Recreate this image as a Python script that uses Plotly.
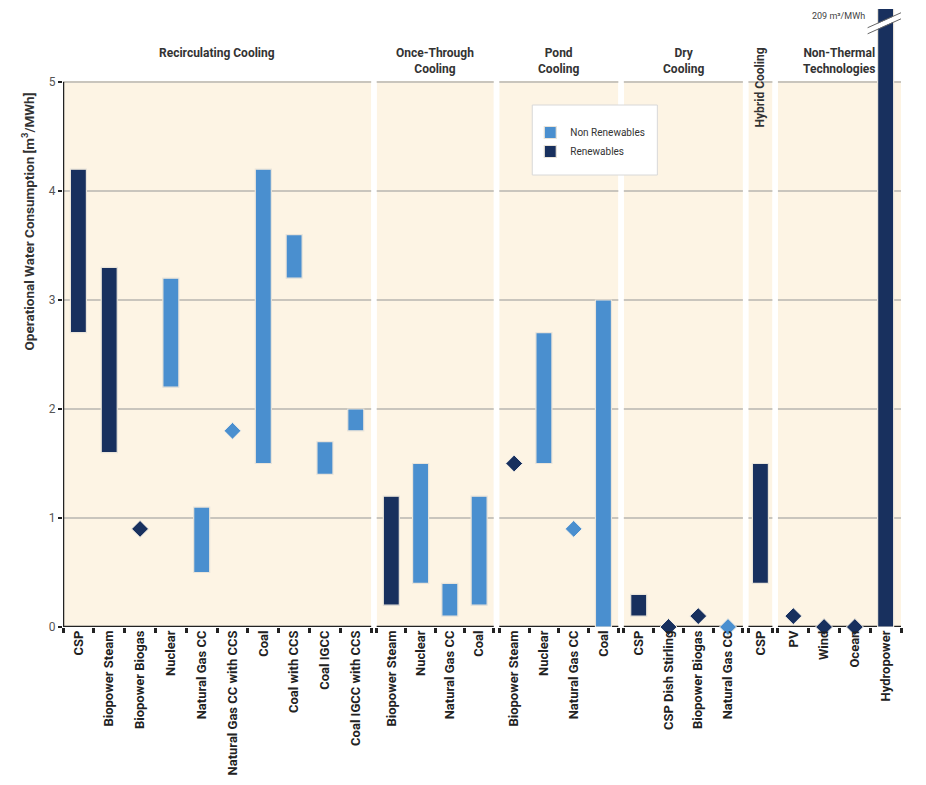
import plotly.graph_objects as go

# ---------------- data ----------------
group_titles = ["Recirculating Cooling", "Once-Through<br>Cooling", "Pond<br>Cooling",
                "Dry<br>Cooling", "Hybrid Cooling", "Non-Thermal<br>Technologies"]

tech_labels = [
    "CSP", "Biopower Steam", "Biopower Biogas", "Nuclear", "Natural Gas CC",
    "Natural Gas CC with CCS", "Coal", "Coal with CCS", "Coal IGCC", "Coal IGCC with CCS",
    "Biopower Steam", "Nuclear", "Natural Gas CC", "Coal",
    "Biopower Steam", "Nuclear", "Natural Gas CC", "Coal",
    "CSP", "CSP Dish Stirling", "Biopower Biogas", "Natural Gas CC",
    "CSP",
    "PV", "Wind", "Ocean", "Hydropower",
]
tech_group = [0]*10 + [1]*4 + [2]*4 + [3]*4 + [4]*1 + [5]*4
renewable = [
    True, True, True, False, False, False, False, False, False, False,
    True, False, False, False,
    True, False, False, False,
    True, True, True, False,
    True,
    True, True, True, True,
]
range_low = [
    2.7, 1.6, None, 2.2, 0.5, None, 1.5, 3.2, 1.4, 1.8,
    0.2, 0.4, 0.1, 0.2,
    None, 1.5, None, 0.0,
    0.1, None, None, None,
    0.4,
    None, None, None, 0.0,
]
range_high = [
    4.2, 3.3, None, 3.2, 1.1, None, 4.2, 3.6, 1.7, 2.0,
    1.2, 1.5, 0.4, 1.2,
    None, 2.7, None, 3.0,
    0.3, None, None, None,
    1.5,
    None, None, None, 209.0,
]
point_value = [
    None, None, 0.9, None, None, 1.8, None, None, None, None,
    None, None, None, None,
    1.5, None, 0.9, None,
    None, 0.0, 0.1, 0.0,
    None,
    0.1, 0.0, 0.0, None,
]
hydro_label = "209 m³/MWh"
y_ticks = [0, 1, 2, 3, 4, 5]

# ---------------- layout helpers (pixel-like x units) ----------------
slot_w = [30.8, 29.25, 29.75, 29.75, 24.0, 30.75]
gap = 5.5
group_n = [tech_group.count(g) for g in range(6)]
group_start, group_end = [], []
pos = 0.0
for g in range(6):
    group_start.append(pos)
    pos += slot_w[g] * group_n[g]
    group_end.append(pos)
    pos += gap
x_max = group_end[-1]

xc = []
boundaries = []
idx_in_group = {}
for i, g in enumerate(tech_group):
    k = idx_in_group.get(g, 0)
    idx_in_group[g] = k + 1
    xc.append(group_start[g] + slot_w[g] * (k + 0.5))
for g in range(6):
    for k in range(group_n[g] + 1):
        boundaries.append(group_start[g] + slot_w[g] * k)

LIGHT = "#4a8fcf"
DARK = "#18305e"
TAN = "#fdf4e4"
BARW = 16

# plot area in window pixels: left 63, top 9, right 901, bottom 627 (page has 8px body margin)
PL, PT, PB = 63, 9, 627
PH = PB - PT


def px_x(p):
    return (p - PL) / x_max


def px_y(p):
    return (PB - p) / PH


fig = go.Figure()

for ren, name, col in [(False, "Non Renewables", LIGHT), (True, "Renewables", DARK)]:
    sel = [i for i in range(len(xc)) if renewable[i] == ren and range_low[i] is not None]
    lo = [range_low[i] for i in sel]
    hi = [range_high[i] for i in sel]
    fig.add_trace(go.Bar(
        x=[xc[i] for i in sel], y=[h - l for h, l in zip(hi, lo)], base=lo, width=BARW,
        marker=dict(color=col, line=dict(color="#e9e4da", width=1.2)),
        name=name, showlegend=True,
    ))
for ren, col in [(False, LIGHT), (True, DARK)]:
    sel = [i for i in range(len(xc)) if renewable[i] == ren and point_value[i] is not None]
    fig.add_trace(go.Scatter(
        x=[xc[i] for i in sel], y=[point_value[i] for i in sel], mode="markers",
        showlegend=False, cliponaxis=False,
        marker=dict(symbol="diamond", size=13, color=col, line=dict(color="#f4efe6", width=1)),
    ))

shapes = []
for g in range(6):
    shapes.append(dict(type="rect", xref="x", yref="y", x0=group_start[g], x1=group_end[g],
                       y0=0, y1=5, fillcolor=TAN, line=dict(width=0), layer="below"))
for g in range(5):
    shapes.append(dict(type="rect", xref="x", yref="y", x0=group_end[g], x1=group_start[g + 1],
                       y0=0, y1=5.02, fillcolor="white", line=dict(width=0), layer="between"))
for g in range(6):
    shapes.append(dict(type="line", xref="x", yref="y", x0=group_start[g], x1=group_end[g],
                       y0=0, y1=0, line=dict(color="#222", width=2.5), layer="between"))
shapes.append(dict(type="line", xref="x", yref="y", x0=0, x1=0, y0=0, y1=5,
                   line=dict(color="#222", width=2.5), layer="above"))
# axis break on hydropower bar
hx = xc[-1]
bx0, bx1 = hx - 18, hx + 16
by0, by1 = 5.47, 5.61
shapes.append(dict(type="line", xref="x", yref="y", x0=bx0, x1=bx1, y0=by0, y1=by1,
                   line=dict(color="white", width=5), layer="above"))
for off in (-0.028, 0.028):
    shapes.append(dict(type="line", xref="x", yref="y", x0=bx0, x1=bx1, y0=by0 + off, y1=by1 + off,
                       line=dict(color="#666", width=1), layer="above"))
# legend box
shapes.append(dict(type="rect", xref="paper", yref="paper", x0=px_x(532), x1=px_x(657),
                   y0=px_y(175), y1=px_y(105), fillcolor="white",
                   line=dict(color="#d8d8d8", width=1), layer="above"))

FONT = "Roboto"
annotations = []
for g in range(6):
    cx = (group_start[g] + group_end[g]) / 2
    if g == 4:
        annotations.append(dict(x=cx, y=px_y(87), xref="x", yref="paper", yanchor="middle",
                                xanchor="center", text="<b>" + group_titles[g] + "</b>",
                                textangle=-90, showarrow=False, font=dict(family=FONT, size=12, color="#333")))
    else:
        annotations.append(dict(x=cx, y=px_y(44), xref="x", yref="paper", yanchor="top",
                                xanchor="center",
                                text="<b>" + group_titles[g] + "</b>", showarrow=False,
                                font=dict(family=FONT, size=12, color="#333")))
annotations.append(dict(x=hx - 19, y=5.61, xref="x", yref="y", xanchor="right", text=hydro_label,
                        showarrow=False, font=dict(family=FONT, size=9, color="#444")))
annotations.append(dict(x=px_x(28), y=3.72, xref="paper", yref="y", xanchor="center",
                        yanchor="middle",
                        text="<b>Operational Water Consumption [m<sup>3</sup>/MWh]</b>",
                        textangle=-90, showarrow=False, font=dict(family=FONT, size=13.5, color="#333")))

fig.update_layout(
    template="none",
    width=926, height=785,
    margin=dict(l=PL - 8, r=926 - (PL - 8) - int(round(x_max)), t=PT - 8, b=785 - (PB - 8),
                autoexpand=False),
    paper_bgcolor="white", plot_bgcolor="white",
    barmode="overlay",
    shapes=shapes, annotations=annotations,
    showlegend=True,
    legend=dict(x=px_x(530), y=px_y(118), xanchor="left", yanchor="top",
                bgcolor="rgba(0,0,0,0)", borderwidth=0,
                font=dict(family=FONT, size=10, color="#333"), itemwidth=30),
    xaxis=dict(range=[0, x_max], tickmode="array", tickvals=xc,
               ticktext=["<b>" + t + "</b>" for t in tech_labels], tickangle=-90,
               ticks="", showgrid=False, zeroline=False, showline=False, automargin=False,
               tickfont=dict(family=FONT, size=13, color="#222"),
               minor=dict(tickmode="array", tickvals=boundaries, ticks="outside", ticklen=5,
                          tickwidth=2.5, tickcolor="#222", showgrid=False)),
    yaxis=dict(range=[0, PH / 109], tickmode="array", tickvals=y_ticks,
               ticktext=[str(v) for v in y_ticks], ticks="outside", ticklen=4, tickwidth=2,
               tickcolor="#222", showgrid=True, gridcolor="#c9c5bd", gridwidth=1.5,
               zeroline=False, showline=False, automargin=False,
               tickfont=dict(family=FONT, size=12, color="#555")),
    font=dict(family=FONT),
)

fig.write_html("out.html")
